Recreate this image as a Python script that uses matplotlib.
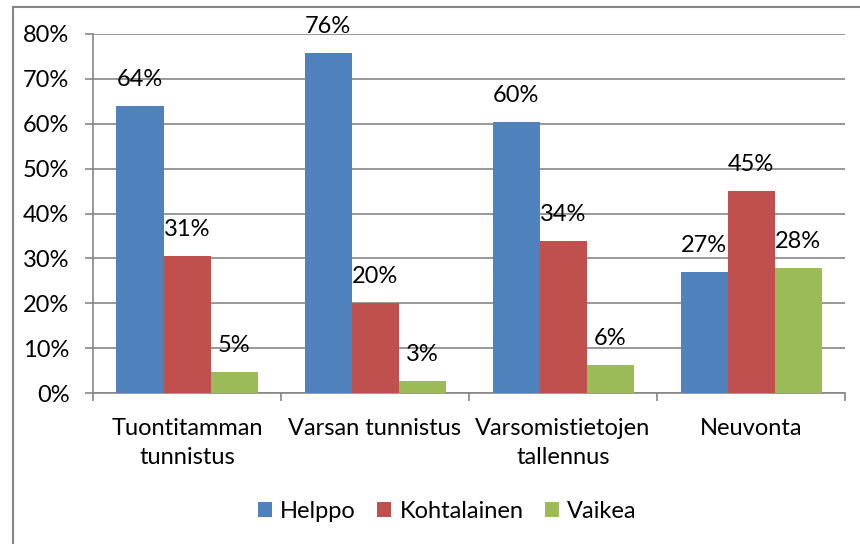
import numpy as np
from matplotlib import pyplot as plt
from matplotlib.lines import Line2D

plt.rcParams["font.family"] = ["Lato", "DejaVu Sans"]

categories = ["Tuontitamman\ntunnistus", "Varsan tunnistus", "Varsomistietojen\ntallennus", "Neuvonta"]
series = ["Helppo", "Kohtalainen", "Vaikea"]
helppo = [63.9, 75.7, 60.4, 27.0]
kohtalainen = [30.6, 20.0, 33.9, 45.0]
vaikea = [4.6, 2.7, 6.3, 27.8]
colors = ["#4F81BD", "#C0504D", "#9BBB59"]

GRID = "#868686"
FS = 17

fig = plt.figure(figsize=(8.6, 5.44), dpi=100)
ax = fig.add_axes([93 / 860, 1 - 393 / 544, 752 / 860, 359 / 544])

x = np.arange(len(categories))
width = 0.25
for i, (name, vals) in enumerate(zip(series, [helppo, kohtalainen, vaikea])):
    pos = x + (i - 1) * width
    ax.bar(pos, vals, width, color=colors[i], label=name, zorder=3)
    for px, v in zip(pos, vals):
        ax.annotate(f"{v:.0f}%", (px, v), xytext=(0, 19), textcoords="offset points",
                    ha="center", va="center", fontsize=FS, zorder=4)

ax.set_xlim(-0.5, len(categories) - 0.5)
ax.set_ylim(0, 80)
ax.set_yticks(range(0, 81, 10))
ax.set_yticklabels([f"{t}%" for t in range(0, 81, 10)], fontsize=FS)
ax.yaxis.grid(True, color=GRID, linewidth=1.2, zorder=0)

ax.set_xticks(x)
ax.set_xticklabels(categories, fontsize=FS, linespacing=1.45, va="top")
ax.set_xticks(np.arange(len(categories) + 1) - 0.5, minor=True)
ax.tick_params(axis="x", which="major", length=0, pad=18)
ax.tick_params(axis="x", which="minor", length=6, color=GRID, width=1.2)
ax.tick_params(axis="y", length=6, color=GRID, width=1.2, pad=11)

for side in ["top", "right"]:
    ax.spines[side].set_visible(False)
for side in ["left", "bottom"]:
    ax.spines[side].set_color(GRID)
    ax.spines[side].set_linewidth(1.2)

# chart border
fig.add_artist(Line2D([12.5 / 860, 12.5 / 860], [0, 1 - 6.5 / 544], transform=fig.transFigure,
                      color=GRID, linewidth=1.5))
fig.add_artist(Line2D([12.5 / 860, 1], [1 - 6.5 / 544, 1 - 6.5 / 544], transform=fig.transFigure,
                      color=GRID, linewidth=1.5))

fig.legend(loc="center", bbox_to_anchor=(0.52, 1 - 511 / 544), ncol=3, frameon=False,
           fontsize=FS, handlelength=0.6, handleheight=0.6, handletextpad=0.35,
           columnspacing=0.9)

fig.savefig("out.png", dpi=100)
